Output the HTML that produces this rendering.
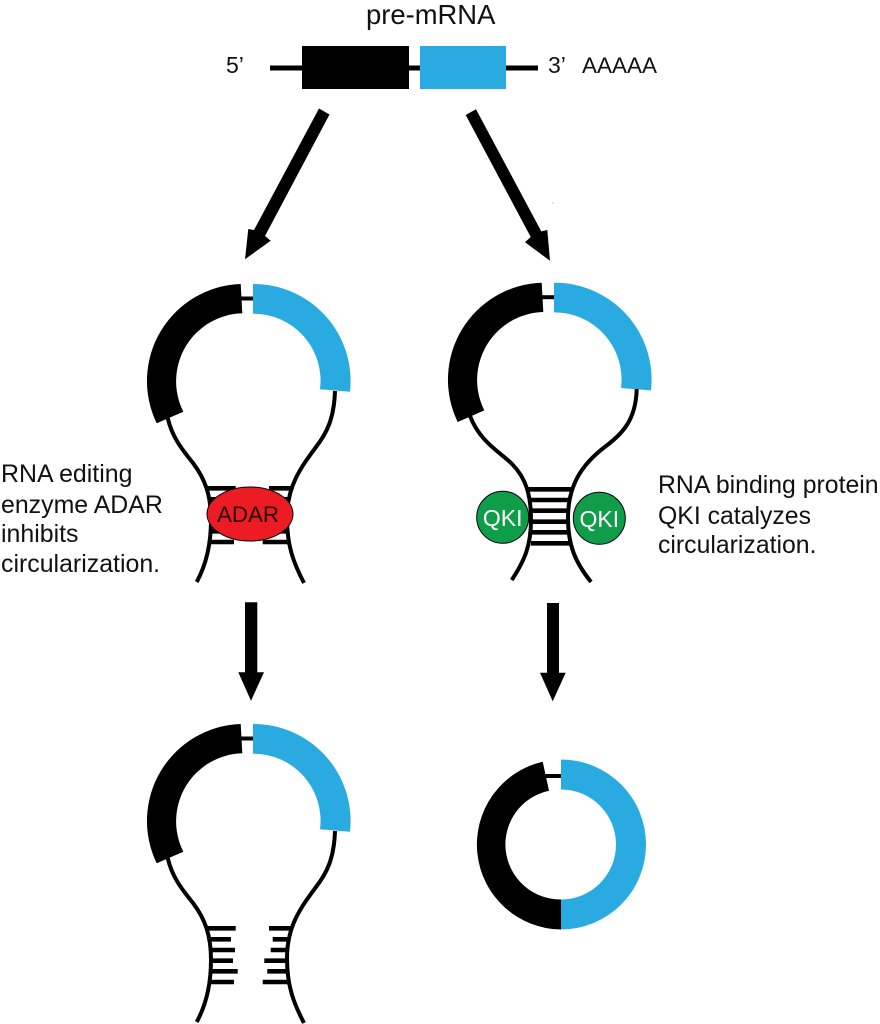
<!DOCTYPE html>
<html>
<head>
<meta charset="utf-8">
<style>
html,body{margin:0;padding:0;background:#fff;}
svg{display:block;}
text{font-family:"Liberation Sans",Arial,sans-serif;fill:#111;}
</style>
</head>
<body>
<svg width="880" height="1024" viewBox="0 0 880 1024" xmlns="http://www.w3.org/2000/svg">
<defs>
  <g id="head">
    <path d="M240,298.5H254" stroke="#000" stroke-width="4" fill="none"/>
    <path d="M240.7,284A97,97 0 0 0 156.7,423.3L183.3,411.7A68,68 0 0 1 242.3,313.3Z" fill="#000"/>
    <path d="M253,284A97,97 0 0 1 350,391.7L320,389.3A67,67 0 0 0 253,313.7Z" fill="#29abe2"/>
  </g>
  <g id="stem" fill="none" stroke="#000">
    <g stroke-width="4">
      <path d="M167.7,418C172,436 180,447 193,463C205,479 211,495 211,520C211,545 206,565 196.7,582"/>
      <path d="M335,391C334,420 326,434 316,447C302,466 287,485 287,518C287,545 293,562 304,583"/>
    </g>
    <g stroke-width="4.6">
      <path d="M207,488.3H235.7M209,499.3H231M210,510H235M211,520.7H233M211,531.3H237.7M210,542H234"/>
      <path d="M269,488.3H292M272.7,499.3H290M270.7,510H288M264.3,520.7H287M267.3,531.3H288M262.7,542H289"/>
    </g>
  </g>
</defs>

<!-- pre-mRNA -->
<text x="366" y="24" font-size="27.4">pre-mRNA</text>
<text x="226" y="73" font-size="23">5’</text>
<text x="548" y="73" font-size="23">3’</text>
<text x="582" y="73" font-size="22.5">AAAAA</text>
<path d="M270,68H538" stroke="#000" stroke-width="5" fill="none"/>
<rect x="302" y="46" width="107" height="43" fill="#000"/>
<rect x="420" y="46" width="86" height="43" fill="#29abe2"/>

<!-- top arrows -->
<path d="M319,108.5L329.5,114.5L265,236L270.7,240.7L245,259.3L248.3,229L254,230Z" fill="#000"/>
<path d="M465.7,115L476,109.3L541.3,231.4L547.3,230L550,260.7L525,242.3L530.7,237Z" fill="#000"/>
<circle cx="553" cy="203" r="0.6" fill="#999"/>

<!-- left middle -->
<use href="#head"/>
<use href="#stem"/>
<ellipse cx="250" cy="514" rx="43" ry="27" fill="#ed1c24" stroke="#000" stroke-width="1"/>
<text x="248" y="522" font-size="22.3" text-anchor="middle" style="fill:#200">ADAR</text>

<!-- right middle -->
<use href="#head" transform="translate(301,-1.3)"/>
<g fill="none" stroke="#000" stroke-width="4">
  <path d="M470,416C480,442 500,452 512,464C526,478 531,495 531,520C531,545 525,560 511.7,580"/>
  <path d="M636.7,389C636,420 622,434 606,446C582,464 568,485 568,518C568,545 575,562 591,582"/>
  <path stroke-width="4.6" d="M527,489.3H573M529,500H570M531,510.7H569M531,521.7H568M531,532.3H569M531,543.3H571"/>
</g>
<circle cx="502.7" cy="517.3" r="26" fill="#0f9d49" stroke="#000" stroke-width="1"/>
<circle cx="599.3" cy="518.3" r="26" fill="#0f9d49" stroke="#000" stroke-width="1"/>
<text x="502.7" y="526" font-size="23" text-anchor="middle" style="fill:#fff">QKI</text>
<text x="599.3" y="527" font-size="23" text-anchor="middle" style="fill:#fff">QKI</text>

<!-- side labels -->
<text x="1" y="482" font-size="24.9">RNA editing</text>
<text x="1" y="513" font-size="24.9">enzyme ADAR</text>
<text x="1" y="542" font-size="24.9">inhibits</text>
<text x="1" y="572" font-size="24.9">circularization.</text>
<text x="658" y="493" font-size="24.8">RNA binding protein</text>
<text x="658" y="524" font-size="24.8">QKI catalyzes</text>
<text x="658" y="553" font-size="24.8">circularization.</text>

<!-- vertical arrows -->
<path d="M245,602.3H257.3V672.3H264L251,700.7L238.3,672.3H245Z" fill="#000"/>
<path d="M547,603H559V672.7H565.7L552.7,701.3L540,672.7H547Z" fill="#000"/>

<!-- bottom left -->
<use href="#head" transform="translate(0,440)"/>
<use href="#stem" transform="translate(0,440)"/>

<!-- bottom right circle -->
<path d="M545,776H562" stroke="#000" stroke-width="4" fill="none"/>
<path d="M542.7,761.7A85,85 0 0 0 561,929.5V899.5A55,55 0 0 1 549,790.7Z" fill="#000"/>
<path d="M561,759.5A85,85 0 0 1 561,929.5V899.5A55,55 0 0 0 561,789.5Z" fill="#29abe2"/>
</svg>
</body>
</html>
